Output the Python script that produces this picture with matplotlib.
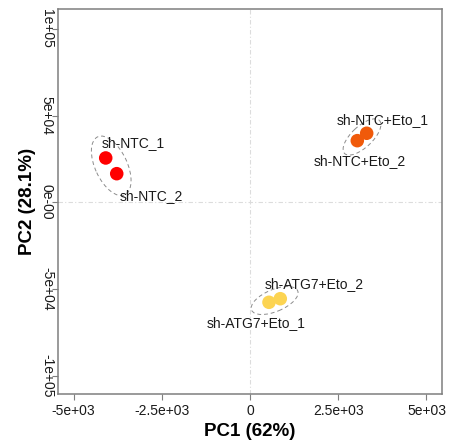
import numpy as np
import matplotlib
matplotlib.use("Agg")
import matplotlib.pyplot as plt
from matplotlib.patches import Ellipse
from matplotlib.transforms import IdentityTransform

plt.rcParams["font.family"] = ["Liberation Sans", "DejaVu Sans"]

# PCA scores
samples = ["sh-NTC_1", "sh-NTC_2", "sh-NTC+Eto_1", "sh-NTC+Eto_2",
           "sh-ATG7+Eto_1", "sh-ATG7+Eto_2"]
groups = ["sh-NTC", "sh-NTC", "sh-NTC+Eto", "sh-NTC+Eto",
          "sh-ATG7+Eto", "sh-ATG7+Eto"]
pc1 = [-4088, -3776, 3306, 3040, 538, 858]
pc2 = [25560, 16500, 39815, 35545, -57700, -55630]
pc1_var = 62
pc2_var = 28.1

x_ticks = [-5000, -2500, 0, 2500, 5000]
x_tick_labels = ["-5e+03", "-2.5e+03", "0", "2.5e+03", "5e+03"]
y_ticks = [-100000, -50000, 0, 50000, 100000]
y_tick_labels = ["-1e+05", "-5e+04", "0e-00", "5e+04", "1e+05"]

group_colors = {"sh-NTC": "#FF0000", "sh-NTC+Eto": "#F05A0A",
                "sh-ATG7+Eto": "#FCD452"}
# ellipse size (major, minor) in pixels and extra tilt per group
ellipse_size = {"sh-NTC": (64, 32), "sh-NTC+Eto": (48, 21),
                "sh-ATG7+Eto": (50, 22)}
ellipse_tilt = {"sh-NTC": -10, "sh-NTC+Eto": 5, "sh-ATG7+Eto": 5}
# label offsets in pixels
label_offset = {"sh-NTC_1": (28, 15), "sh-NTC_2": (35, -22),
                "sh-NTC+Eto_1": (16, 13), "sh-NTC+Eto_2": (3, -20),
                "sh-ATG7+Eto_1": (-13, -21), "sh-ATG7+Eto_2": (34, 15)}

fig = plt.figure(figsize=(4.55, 4.44), dpi=100)
ax = fig.add_axes([58 / 455, 1 - 394 / 444, 384 / 455, 385 / 444])
ax.set_xlim(-5440, 5440)
ax.set_ylim(-110600, 111500)

# zero reference lines
ax.axhline(0, color="#dcdcdc", lw=0.8, ls=(0, (4, 2, 1, 2)), zorder=0)
ax.axvline(0, color="#dcdcdc", lw=0.8, ls=(0, (4, 2, 1, 2)), zorder=0)

pc1 = np.asarray(pc1, float)
pc2 = np.asarray(pc2, float)
grp = np.asarray(groups)

# group ellipses drawn in pixel space along the direction of the replicates
for g in dict.fromkeys(groups):
    m = grp == g
    pts = ax.transData.transform(np.column_stack([pc1[m], pc2[m]]))
    center = pts.mean(axis=0)
    d = pts[-1] - pts[0]
    ang = np.degrees(np.arctan2(d[1], d[0])) + ellipse_tilt[g]
    w, h = ellipse_size[g]
    ax.add_patch(Ellipse(center, w, h, angle=ang, fill=False,
                         ec="#8c8c8c", lw=0.7, ls=(0, (4, 3)),
                         transform=IdentityTransform(), zorder=1))

ax.scatter(pc1, pc2, s=95, c=[group_colors[g] for g in groups],
           edgecolors="none", zorder=3)

for name, x, y in zip(samples, pc1, pc2):
    ax.annotate(name, (x, y), xytext=label_offset[name],
                textcoords="offset pixels", ha="center", va="center",
                fontsize=10, color="#1a1a1a", zorder=4)

for s in ax.spines.values():
    s.set_color("#7f7f7f")
    s.set_linewidth(1.1)

ax.set_xticks(x_ticks)
ax.set_xticklabels(x_tick_labels)
ax.set_yticks(y_ticks)
ax.set_yticklabels(y_tick_labels, rotation=270, va="center", ha="center")
ax.tick_params(axis="both", length=4, width=0.8, color="#7f7f7f",
               labelsize=10, labelcolor="#1a1a1a")
ax.tick_params(axis="y", pad=4)
ax.tick_params(axis="x", pad=3)

ax.set_xlabel(f"PC1 ({pc1_var}%)", fontsize=13.5, fontweight="bold",
              labelpad=4)
ax.set_ylabel(f"PC2 ({pc2_var}%)", fontsize=13.5, fontweight="bold",
              labelpad=3)

fig.savefig("out.png", dpi=100)
